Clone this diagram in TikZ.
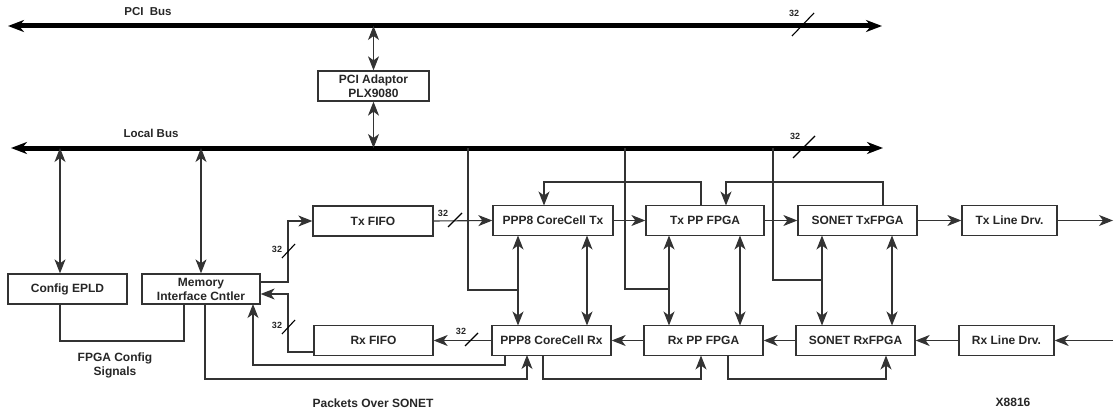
\documentclass[tikz,border=0pt]{standalone}
\usepackage{fontspec}
\setmainfont{Liberation Sans}
\usetikzlibrary{arrows.meta}
\definecolor{ink}{gray}{0.15}
\definecolor{lin}{gray}{0.2}
\begin{document}
\begin{tikzpicture}[x=1pt,y=-1pt,
  box/.style={draw=lin,line width=1.3pt,minimum height=30pt,inner sep=0pt,align=center,text=ink,font=\bfseries\fontsize{12}{14}\selectfont},
  wire/.style={draw=lin,line width=1.1pt},
  arr/.style={wire,-{Stealth[length=14pt,width=11pt,inset=4pt]}},
  darr/.style={wire,{Stealth[length=14pt,width=11pt,inset=4pt]}-{Stealth[length=14pt,width=11pt,inset=4pt]}},
  bus/.style={draw=black,line width=5pt,{Stealth[length=16pt,width=12pt,inset=5pt]}-{Stealth[length=16pt,width=12pt,inset=5pt]}},
  lbl/.style={text=ink,font=\bfseries\fontsize{12}{14}\selectfont,align=center,inner sep=0pt},
  buslbl/.style={text=ink,font=\bfseries\fontsize{11.5}{13}\selectfont,inner sep=0pt},
  num/.style={text=ink,font=\bfseries\fontsize{9}{10}\selectfont,inner sep=0pt},
  slash/.style={draw=black,line width=1.1pt}
]
\useasboundingbox (0,0) rectangle (1114,412);
% buses
\coordinate (pciL) at (8,26);
\coordinate (pciR) at (882,26);
\coordinate (locL) at (11,148);
\coordinate (locR) at (883,148);
\draw[bus] (pciL) -- (pciR);
\draw[bus] (locL) -- (locR);
\node[buslbl] (pcibuslbl) at (148,12) {PCI\ \ Bus};
\node[buslbl] (locbuslbl) at (151,133) {Local Bus};
\node[num] (n1) at (794,13) {32};
\draw[slash] (792,36) -- (814,13);
\node[num] (n2) at (795,136) {32};
\draw[slash] (793,158) -- (815,136);
% nodes
\node[box,minimum width=111pt] (pci) at (373.5,86) {PCI Adaptor\\PLX9080};
\node[box,minimum width=119pt] (cfg) at (67.5,289) {Config EPLD};
\node[box,minimum width=118pt] (mem) at (201,289) {Memory\\Interface Cntler};
\node[box,minimum width=120pt] (txfifo) at (373,221) {Tx FIFO};
\node[box,minimum width=119pt] (rxfifo) at (373.5,340.5) {Rx FIFO};
\node[box,minimum width=120pt] (ppptx) at (553,220.5) {PPP8 CoreCell Tx};
\node[box,minimum width=118pt] (txpp) at (705,220.5) {Tx PP FPGA};
\node[box,minimum width=119pt] (ppprx) at (551.5,340.5) {PPP8 CoreCell Rx};
\node[box,minimum width=119pt] (rxpp) at (703.5,340.5) {Rx PP FPGA};
\node[box,minimum width=119pt] (sontx) at (857.5,220.5) {SONET TxFPGA};
\node[box,minimum width=95pt] (txline) at (1009.5,220.5) {Tx Line Drv.};
\node[box,minimum width=119pt] (sonrx) at (855.5,340.5) {SONET RxFPGA};
\node[box,minimum width=95pt] (rxline) at (1006.5,340.5) {Rx Line Drv.};
\coordinate (txout) at (1113,220.5);
\coordinate (rxin) at (1113,340.5);
% bus taps
\coordinate (t1) at (60,148);
\coordinate (t2) at (201,148);
\coordinate (t3) at (468,148);
\coordinate (t4) at (625,148);
\coordinate (t5) at (773,148);
\draw[darr] (pci.north) -- (pci.north |- pciL);
\draw[darr] (pci.south) -- (pci.south |- locL);
\draw[darr] (t1) -- (t1 |- cfg.north);
\draw[darr] (t2) -- (mem.north);
% config signals
\draw[wire] (t1 |- cfg.south) -- (60,341) -- (184,341) -- (184,304);
\node[lbl] (fpgacfg) at (115,365.5) {FPGA Config\\Signals};
% FIFOs
\draw[arr] (260,282) -- (288,282) -- (288,221) -- (txfifo.west);
\node[num] (n3) at (277,249) {32};
\draw[slash] (282,258) -- (295,244);
\draw[arr] (rxfifo.west |- 0,352) -- (288,352) -- (288,294) -- (mem.east |- 0,294);
\node[num] (n4) at (277,325) {32};
\draw[slash] (282,334) -- (295,320);
\draw[arr] (505,355) -- (505,365) -- (253,365) -- (253,304);
\draw[arr] (205,304) -- (205,379) -- (527,379) -- (527,355);
% tx chain
\draw[arr] (txfifo.east) -- (ppptx.west);
\node[num] (n5) at (443,213) {32};
\draw[slash] (448,227) -- (462,213);
\draw[arr] (ppptx.east) -- (txpp.west);
\draw[arr] (txpp.east) -- (sontx.west);
\draw[arr] (sontx.east) -- (txline.west);
\draw[arr] (txline.east) -- (txout);
% rx chain
\draw[arr] (rxin) -- (rxline.east);
\draw[arr] (rxline.west) -- (sonrx.east);
\draw[arr] (sonrx.west) -- (rxpp.east);
\draw[arr] (rxpp.west) -- (ppprx.east);
\draw[arr] (ppprx.west) -- (rxfifo.east);
\node[num] (n6) at (461,331) {32};
\draw[slash] (465,346) -- (478,333);
% verticals
\draw[darr] (518,235.5) -- (518,325.5);
\draw[darr] (587,235.5) -- (587,325.5);
\draw[darr] (669,235.5) -- (669,325.5);
\draw[darr] (740,235.5) -- (740,325.5);
\draw[darr] (822,235.5) -- (822,325.5);
\draw[darr] (892,235.5) -- (892,325.5);
% local bus drops
\draw[wire] (t3) -- (468,290) -- (518,290);
\draw[wire] (t4) -- (625,289) -- (669,289);
\draw[wire] (t5) -- (773,280) -- (822,280);
% top loops
\draw[arr] (701,205.5) -- (701,182) -- (544,182) -- (544,205.5);
\draw[arr] (883,205.5) -- (883,182) -- (726,182) -- (726,205.5);
% bottom loops
\draw[arr] (543,355.5) -- (543,379) -- (701,379) -- (701,355.5);
\draw[arr] (728,355.5) -- (728,379) -- (886,379) -- (886,355.5);
\node[lbl] (pos) at (373,403) {Packets Over SONET};
\node[lbl] (xid) at (1013,402) {X8816};
\end{tikzpicture}
\end{document}
